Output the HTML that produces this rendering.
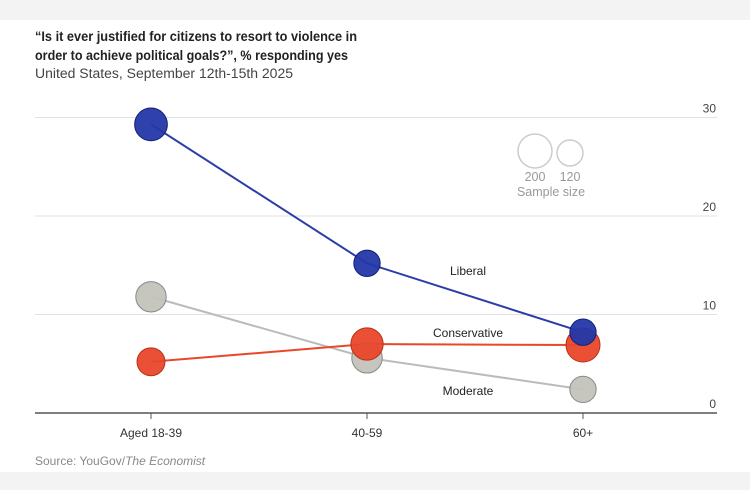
<!DOCTYPE html>
<html><head><meta charset="utf-8"><style>
body{margin:0;width:750px;height:490px;background:#f3f3f3;font-family:"Liberation Sans",sans-serif;overflow:hidden}
#panel{position:absolute;left:0;top:20px;width:750px;height:452px;background:#fff}
</style></head><body>
<div id="panel"></div>
<svg id="chart" width="750" height="490" style="position:absolute;left:0;top:0">
<text x="35" y="41" font-size="14" font-weight="bold" fill="#222" textLength="322" lengthAdjust="spacingAndGlyphs">“Is it ever justified for citizens to resort to violence in</text>
<text x="35" y="60" font-size="14" font-weight="bold" fill="#222" textLength="313" lengthAdjust="spacingAndGlyphs">order to achieve political goals?”, % responding yes</text>
<text x="35" y="78" font-size="13.5" fill="#444" textLength="258" lengthAdjust="spacingAndGlyphs">United States, September 12th-15th 2025</text>
<text x="35" y="465" font-size="12" fill="#888">Source: YouGov/<tspan font-style="italic">The Economist</tspan></text>
<g id="grid"></g><g id="lines"></g><g id="dots"></g>
<circle cx="535" cy="151" r="17" fill="none" stroke="#ccc" stroke-width="1.5"/>
<circle cx="570" cy="153" r="13" fill="none" stroke="#ccc" stroke-width="1.5"/>
<text x="535" y="181" font-size="12.5" fill="#999" text-anchor="middle">200</text>
<text x="570" y="181" font-size="12.5" fill="#999" text-anchor="middle">120</text>
<text x="551" y="196" font-size="12.5" fill="#999" text-anchor="middle">Sample size</text>
</svg>
<script>
const categories=["Aged 18-39","40-59","60+"];
const liberal=[29.3,15.2,8.2];
const moderate=[11.8,5.6,2.4];
const conservative=[5.2,7.0,6.9];
const liberalN=[185,120,120];
const moderateN=[160,160,120];
const conservativeN=[135,180,200];
const yTicks=[0,10,20,30];
const NS="http://www.w3.org/2000/svg";
const x=i=>151+i*216;
const y=v=>413-v*9.85;
const r=n=>17*Math.sqrt(n/200);
function mk(tag,attrs,parent){const e=document.createElementNS(NS,tag);for(const k in attrs)e.setAttribute(k,attrs[k]);document.getElementById(parent).appendChild(e);return e;}
yTicks.forEach(t=>{
 const l=mk("line",{x1:35,x2:717,y1:y(t),y2:y(t),stroke:t===0?"#555":"#e2e2e2","stroke-width":t===0?1.5:1},"grid");
 
 
 const tx=mk("text",{x:716,y:y(t)-5,"font-size":12,fill:"#444","text-anchor":"end"},"grid");tx.textContent=t;
 
 
});
categories.forEach((c,i)=>{
 const tk=mk("line",{x1:x(i),x2:x(i),y1:413,y2:419,stroke:"#555"},"grid");
 
 
 const t=mk("text",{x:x(i),y:437,"font-size":12,fill:"#333","text-anchor":"middle"},"grid");t.textContent=c;
 
 
});
const series=[
 {name:"moderate",vals:moderate,n:moderateN,line:"#bbb",fill:"#c3c2ba",stroke:"#888",label:"Moderate",lx:468,ly:395},
 {name:"conservative",vals:conservative,n:conservativeN,line:"#e8472a",fill:"#e8472a",stroke:"#b8301a",label:"Conservative",lx:468,ly:337},
 {name:"liberal",vals:liberal,n:liberalN,line:"#2b3ea8",fill:"#2337a8",stroke:"#142070",label:"Liberal",lx:468,ly:275}
];
series.forEach(s=>{
 const p=mk("polyline",{points:s.vals.map((v,i)=>x(i)+","+y(v)).join(" "),fill:"none",stroke:s.line,"stroke-width":2},"lines");
 
 
 const lt=mk("text",{x:s.lx,y:s.ly,"font-size":12,fill:"#222","text-anchor":"middle"},"lines");lt.textContent=s.label;
 
 
});
series.forEach(s=>{
 s.vals.forEach((v,i)=>{
  const c=mk("circle",{cx:x(i),cy:y(v),r:r(s.n[i]),fill:s.fill,stroke:s.stroke,"stroke-width":1,"fill-opacity":0.95},"dots");
  
  
 });
});
</script>
</body></html>
